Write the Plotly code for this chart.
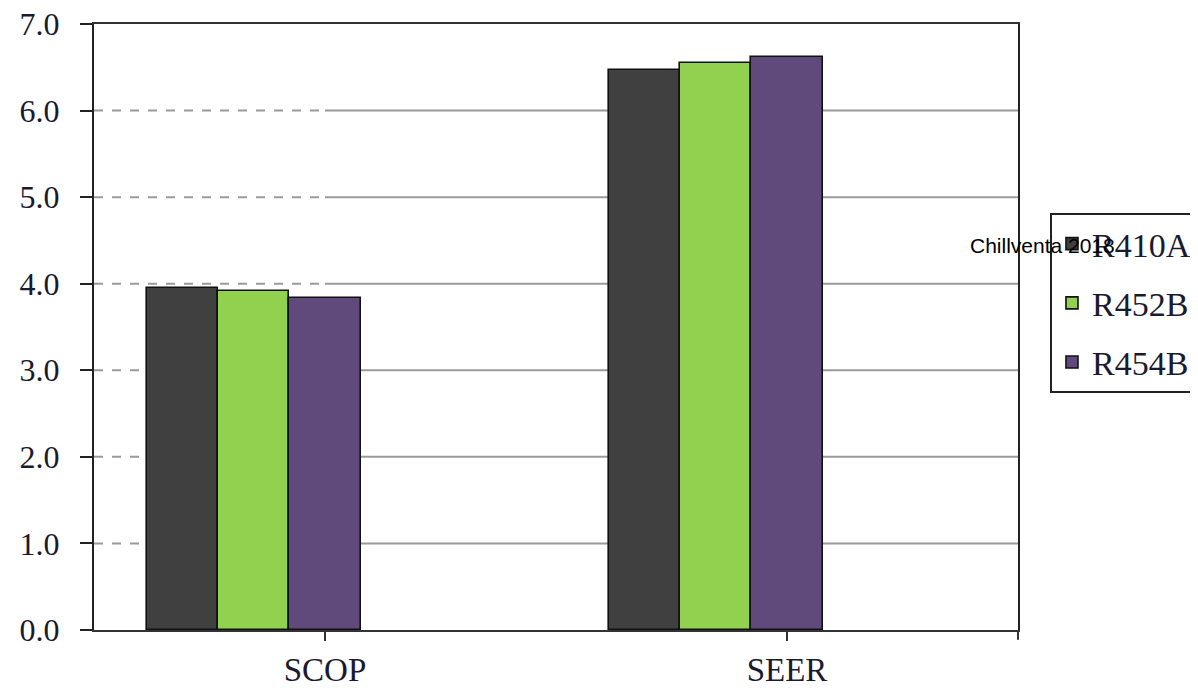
import plotly.graph_objects as go

categories = ["SCOP", "SEER"]
series_names = ["R410A", "R452B", "R454B"]
r410a = [3.95, 6.47]
r452b = [3.92, 6.55]
r454b = [3.84, 6.62]
y_ticks = [0, 1, 2, 3, 4, 5, 6, 7]

colors = ["#404040", "#92d050", "#604a7b"]
offsets = [-0.385, -0.231, -0.077]
bar_w = 0.154

fig = go.Figure()
for i, (name, vals) in enumerate(zip(series_names, [r410a, r452b, r454b])):
    fig.add_trace(go.Bar(
        x=categories, y=vals, name=name, legendgroup=name,
        marker=dict(color=colors[i], line=dict(color="#111111", width=1.6)),
        width=bar_w, offset=offsets[i],
    ))

serif = "Liberation Serif"
# gridlines: dashed near left, solid beyond
for v in y_ticks[1:-1]:
    fig.add_shape(type="line", xref="paper", yref="y", x0=0, x1=0.25, y0=v, y1=v,
                  line=dict(color="#9a9a9a", width=2, dash="dash"), layer="below")
    fig.add_shape(type="line", xref="paper", yref="y", x0=0.25, x1=1, y0=v, y1=v,
                  line=dict(color="#9a9a9a", width=2), layer="below")
# tick at right end of x axis
fig.add_shape(type="line", xref="paper", yref="paper", x0=1, x1=1, y0=0, y1=-0.016,
              line=dict(color="#333333", width=2))

fig.add_annotation(text="Chillventa 2018", xref="paper", yref="paper",
                   x=1.026, y=(630 - 245) / 606, xanchor="center", yanchor="middle",
                   showarrow=False,
                   font=dict(family="Liberation Sans", size=21, color="black"))

fig.update_layout(
    width=1190, height=680,
    margin=dict(l=86, r=180, t=16, b=58, autoexpand=False),
    plot_bgcolor="white", paper_bgcolor="white",
    showlegend=True,
    legend=dict(x=1.0346, y=0.688, xanchor="left", yanchor="top",
                bordercolor="#222222", borderwidth=2, bgcolor="white",
                font=dict(family=serif, size=34, color="#1a1a2e"),
                tracegroupgap=12, traceorder="grouped"),
    xaxis=dict(type="category", range=[-0.5, 1.5], showline=True, linecolor="#333333",
               linewidth=2, mirror=True, ticks="outside", ticklen=9, tickwidth=2,
               tickcolor="#333333", showgrid=False,
               tickfont=dict(family=serif, size=33, color="#1a1a2e")),
    yaxis=dict(range=[0, 7], tickvals=y_ticks, tickformat=".1f", showline=True,
               linecolor="#222222", linewidth=2, mirror=True, ticks="outside",
               ticklen=12, tickwidth=2, tickcolor="#222222", showgrid=False,
               zeroline=False, ticklabelstandoff=14, ticklabeloverflow="allow",
               tickfont=dict(family=serif, size=32, color="#1a1a2e")),
    bargap=0,
)

fig.write_html("out.html")
